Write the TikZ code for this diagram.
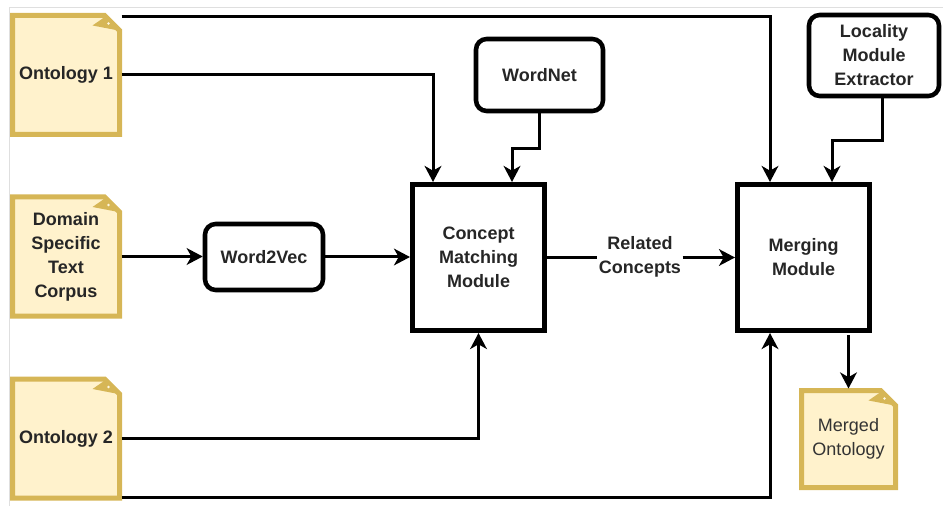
\documentclass[tikz,border=0pt]{standalone}
\usepackage{fontspec}
\setmainfont{Liberation Sans}
\usetikzlibrary{arrows.meta, positioning, calc, backgrounds}
\definecolor{notefill}{HTML}{FFF2CC}
\definecolor{noteline}{HTML}{D6B656}
\definecolor{textgray}{HTML}{333333}

\begin{document}
\begin{tikzpicture}[
    x=0.75pt, y=-0.75pt,
    font=\fontsize{13.5}{18}\selectfont\bfseries,
    % Styles
    doc_box/.style={align=center, minimum width=80.25pt, minimum height=89.25pt, inner sep=0pt, outer sep=0pt, text=black!85},
    doc_line/.style={draw=noteline, fill=notefill, line width=3.75pt},
    round_box/.style={draw, fill=white, rounded corners=8pt, line width=3.4pt, align=center, inner sep=0pt, text=black!85},
    module_box/.style={draw, fill=white, line width=3.75pt, align=center, minimum width=99pt, minimum height=109.5pt, inner sep=0pt, text=black!85},
    line/.style={line width=2.25pt},
    arrow/.style={-{Stealth[length=12pt, width=12.5pt, inset=3.5pt]}, line width=2.25pt}
]
    \useasboundingbox (0,0) rectangle (943,506);
    \draw[gray!25, line width=0.75pt] (9,506) -- (9,8) -- (943,8);

    % 1. INPUT DOCUMENTS
    \node[doc_box] (onto1) at (66,75) {Ontology 1};
    \node[doc_box] (corpus) at (66,256.5) {Domain\\Specific\\Text\\Corpus};
    \node[doc_box] (onto2) at (66,438.5) {Ontology 2};

    % 2. TOOLS
    \node[round_box, minimum width=88.5pt, minimum height=49.5pt] (word2vec) at (264,257) {Word2Vec};
    \node[round_box, minimum width=95.25pt, minimum height=54pt] (wordnet) at (539.5,75) {WordNet};
    \node[round_box, minimum width=97.5pt, minimum height=60.75pt] (locality) at (874,55.5) {Locality\\Module\\Extractor};

    % 3. MODULES
    \node[module_box] (cmm) at (478.5,257.5) {Concept\\Matching\\Module};
    \node[module_box] (merge) at (803.5,257.5) {Merging\\Module};
    \node[inner sep=1pt, align=center, text=black!85] (related) at (640,257) {Related\\Concepts};

    % 4. OUTPUT DOCUMENT
    \node[doc_box, minimum width=70.5pt, minimum height=72.75pt, font=\fontsize{13.5}{18}\selectfont, text=textgray] (merged) at (848.5,439) {Merged\\Ontology};

    % note outlines with folded corner, behind the texts
    \begin{pgfonlayer}{background}
    \foreach \d in {onto1,corpus,onto2,merged} {
        \draw[doc_line] (\d.north west) -- ($(\d.north east)+(-15,0)$) -- ($(\d.north east)+(0,15)$) -- (\d.south east) -- (\d.south west) -- cycle;
        \fill[noteline] ($(\d.north east)+(-14,1)$) -- ($(\d.north east)+(-27,10)$) -- ($(\d.north east)+(-1,15)$) -- cycle;
        \fill[notefill!60] ($(\d.north east)+(-11,8)$) circle (1.3);
    }
    \end{pgfonlayer}

    % 5. ARROWS
    \draw[arrow] ([xshift=1.5pt]onto1.east |- 0,17) -| ($(merge.north)+(-33.5,0)$);
    \draw[arrow] ([xshift=1.5pt]onto1.east) -| ($(cmm.north)+(-45.5,0)$);
    \draw[arrow] (wordnet.south) -- ++(0,35) -| ($(cmm.north)+(33.5,0)$);
    \draw[arrow] ($(locality.south)+(8,0)$) -- ++(0,42) -| ($(merge.north)+(28.5,0)$);

    \draw[arrow] ([xshift=1.5pt]corpus.east) -- (corpus.east -| word2vec.west);
    \draw[arrow] (word2vec.east) -- (word2vec.east -| cmm.west);

    % Matching to Merging, broken by the label
    \draw[line] (cmm.east) -- (cmm.east -| related.west);
    \draw[arrow] (related.east |- merge.west) -- (merge.west);

    \draw[arrow] ([xshift=1.5pt]onto2.east) -| (cmm.south);
    \draw[arrow] ([xshift=1.5pt]onto2.east |- 0,497) -| ($(merge.south)+(-33.5,0)$);
    \draw[arrow] ([yshift=-1.5pt]merged.north |- merge.south) -- ([yshift=1.5pt]merged.north);

\end{tikzpicture}
\end{document}
